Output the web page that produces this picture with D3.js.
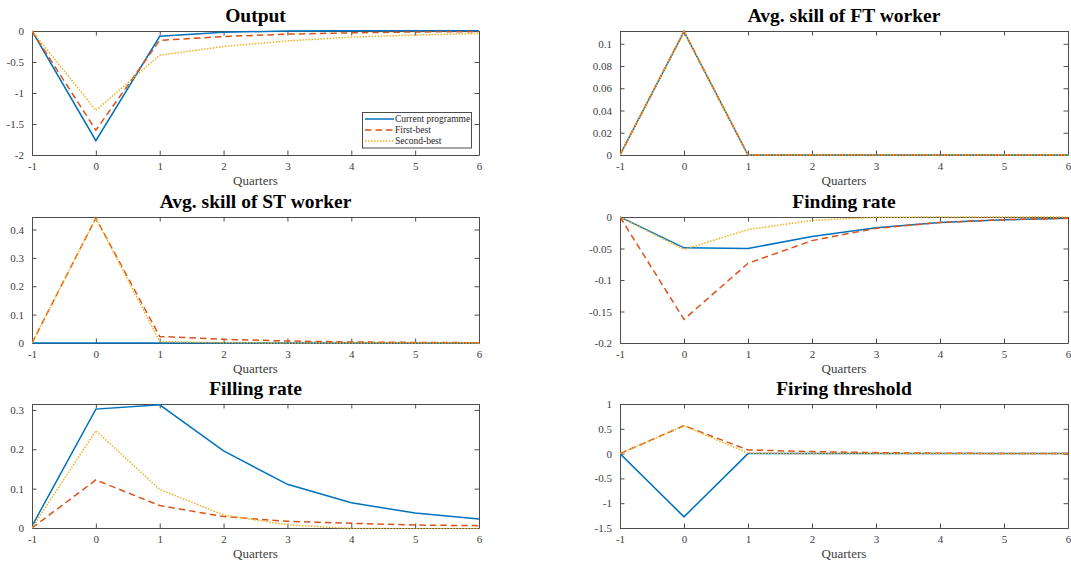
<!DOCTYPE html>
<html>
<head>
<meta charset="utf-8">
<script src="https://cdn.jsdelivr.net/npm/d3@7"></script>
<style>
  html, body { margin: 0; padding: 0; background: #fff; }
  svg { display: block; }
  svg text { font-family: "Liberation Serif", "Times New Roman", serif !important; }
</style>
</head>
<body>
<svg id="chart" width="1071" height="565"></svg>
<script>
// Quarters after the shock
const quarters = [-1, 0, 1, 2, 3, 4, 5, 6];
const seriesNames = ["Current programme", "First-best", "Second-best"];

// Output
const outputCurrent = [0, -1.77, -0.085, -0.02, 0, 0.005, 0.005, 0.005];
const outputFirst   = [0, -1.60, -0.15, -0.09, -0.05, -0.03, -0.015, -0.01];
const outputSecond  = [0, -1.28, -0.39, -0.25, -0.16, -0.10, -0.065, -0.04];

// Avg. skill of FT worker
const ftCurrent = [0, 0.111, 0, 0, 0, 0, 0, 0];
const ftFirst   = [0, 0.111, 0, 0, 0, 0, 0, 0];
const ftSecond  = [0, 0.111, 0, 0, 0, 0, 0, 0];

// Avg. skill of ST worker
const stCurrent = [0, 0, 0, 0, 0, 0, 0, 0];
const stFirst   = [0, 0.44, 0.023, 0.013, 0.007, 0.0035, 0.002, 0.001];
const stSecond  = [0, 0.44, 0.005, 0.001, 0, 0, 0, 0];

// Finding rate
const findCurrent = [0, -0.049, -0.050, -0.031, -0.017, -0.0086, -0.0043, -0.002];
const findFirst   = [0, -0.1625, -0.0735, -0.0375, -0.018, -0.0086, -0.0043, -0.002];
const findSecond  = [0, -0.0515, -0.020, -0.0054, -0.0005, 0, 0, 0];

// Filling rate
const fillCurrent = [0.005, 0.302, 0.313, 0.196, 0.111, 0.064, 0.038, 0.023];
const fillFirst   = [0, 0.122, 0.057, 0.029, 0.017, 0.012, 0.0075, 0.006];
const fillSecond  = [0, 0.247, 0.098, 0.033, 0.008, -0.001, -0.002, -0.002];

// Firing threshold
const fireCurrent = [0, -1.275, 0, 0, 0, 0, 0, 0];
const fireFirst   = [0, 0.564, 0.074, 0.04, 0.02, 0.007, 0.003, 0.003];
const fireSecond  = [0, 0.56, 0.01, 0, 0, 0, 0, 0];

// Tick values per panel
const xTicks = [-1, 0, 1, 2, 3, 4, 5, 6];
const outputTicks = [-2, -1.5, -1, -0.5, 0];
const ftTicks = [0, 0.02, 0.04, 0.06, 0.08, 0.1];
const stTicks = [0, 0.1, 0.2, 0.3, 0.4];
const findTicks = [-0.2, -0.15, -0.1, -0.05, 0];
const fillTicks = [0, 0.1, 0.2, 0.3];
const fireTicks = [-1.5, -1, -0.5, 0, 0.5, 1];

const colors = ["#0072BD", "#D95319", "#EDB120"];
const dashes = [null, "6.5,4", "1.5,1.5"];

const panels = [
  { title: "Output", series: [outputCurrent, outputFirst, outputSecond], yDomain: [-2, 0], yTicks: outputTicks, col: 0, row: 0, legend: true },
  { title: "Avg. skill of FT worker", series: [ftCurrent, ftFirst, ftSecond], yDomain: [0, 0.1115], yTicks: ftTicks, col: 1, row: 0 },
  { title: "Avg. skill of ST worker", series: [stCurrent, stFirst, stSecond], yDomain: [0, 0.444], yTicks: stTicks, col: 0, row: 1 },
  { title: "Finding rate", series: [findCurrent, findFirst, findSecond], yDomain: [-0.2, 0], yTicks: findTicks, col: 1, row: 1 },
  { title: "Filling rate", series: [fillCurrent, fillFirst, fillSecond], yDomain: [0, 0.315], yTicks: fillTicks, col: 0, row: 2 },
  { title: "Firing threshold", series: [fireCurrent, fireFirst, fireSecond], yDomain: [-1.5, 1], yTicks: fireTicks, col: 1, row: 2 }
];

const colX = [[32, 479], [620, 1068]];
const rowY = [[31, 155], [217, 343], [404, 528]];

const serif = '"Liberation Serif", "Times New Roman", serif';
const svg = d3.select("#chart");
const axisColor = "#4d4d4d";
const fmt = d => String(+d.toFixed(4));

panels.forEach((p, i) => {
  const [x0, x1] = colX[p.col];
  const [y0, y1] = rowY[p.row];
  const x = d3.scaleLinear().domain([-1, 6]).range([x0, x1]);
  const y = d3.scaleLinear().domain(p.yDomain).range([y1, y0]);
  const g = svg.append("g");

  // clip region for the plot area
  const clipId = "clip" + i;
  svg.append("clipPath").attr("id", clipId)
    .append("rect").attr("x", x0).attr("y", y0 - 1).attr("width", x1 - x0).attr("height", y1 - y0 + 2);

  // axes with inward ticks on all four sides
  const tickLen = 4.5;
  const bottom = g.append("g").attr("transform", `translate(0,${y1})`)
    .call(d3.axisBottom(x).tickValues(xTicks).tickFormat(fmt).tickSizeInner(-tickLen).tickSizeOuter(0).tickPadding(7));
  const top = g.append("g").attr("transform", `translate(0,${y0})`)
    .call(d3.axisTop(x).tickValues(xTicks).tickFormat("").tickSizeInner(-tickLen).tickSizeOuter(0));
  const left = g.append("g").attr("transform", `translate(${x0},0)`)
    .call(d3.axisLeft(y).tickValues(p.yTicks).tickFormat(fmt).tickSizeInner(-tickLen).tickSizeOuter(0).tickPadding(8));
  const right = g.append("g").attr("transform", `translate(${x1},0)`)
    .call(d3.axisRight(y).tickValues(p.yTicks).tickFormat("").tickSizeInner(-tickLen).tickSizeOuter(0));

  [bottom, top, left, right].forEach(a => {
    a.attr("font-family", serif).attr("font-size", 11);
    a.selectAll(".domain").attr("stroke", axisColor).attr("stroke-width", 1);
    a.selectAll(".tick line").attr("stroke", axisColor).attr("stroke-width", 1);
    a.selectAll(".tick text").attr("fill", "#404040");
  });

  // series lines
  const line = d3.line().x((d, k) => x(quarters[k])).y(d => y(d));
  const lines = g.append("g").attr("clip-path", `url(#${clipId})`);
  p.series.forEach((vals, s) => {
    lines.append("path")
      .datum(vals)
      .attr("d", line)
      .attr("fill", "none")
      .attr("stroke", colors[s])
      .attr("stroke-width", 1.5)
      .attr("stroke-dasharray", dashes[s]);
  });

  // title
  g.append("text")
    .attr("x", (x0 + x1) / 2).attr("y", y0 - 9)
    .attr("text-anchor", "middle")
    .attr("font-family", serif)
    .style("font-size", "19.5px").style("font-weight", "bold")
    .attr("fill", "#000")
    .text(p.title);

  // x-axis label
  g.append("text")
    .attr("x", (x0 + x1) / 2).attr("y", y1 + 30)
    .attr("text-anchor", "middle")
    .attr("font-family", serif)
    .style("font-size", "13px")
    .attr("fill", "#404040")
    .text("Quarters");

  if (p.legend) {
    const lg = g.append("g").attr("font-family", serif);
    lg.append("rect").attr("x", 362.5).attr("y", 112.5).attr("width", 109).attr("height", 35.5)
      .attr("fill", "#fff").attr("stroke", axisColor).attr("stroke-width", 1);
    seriesNames.forEach((name, s) => {
      const ly = 119 + s * 11;
      lg.append("line").attr("x1", 365).attr("x2", 394).attr("y1", ly).attr("y2", ly)
        .attr("stroke", colors[s]).attr("stroke-width", 1.5).attr("stroke-dasharray", dashes[s]);
      lg.append("text").attr("x", 395).attr("y", ly + 3.2)
        .style("font-size", "9.5px").attr("fill", "#262626").text(name);
    });
  }
});
</script>
</body>
</html>
